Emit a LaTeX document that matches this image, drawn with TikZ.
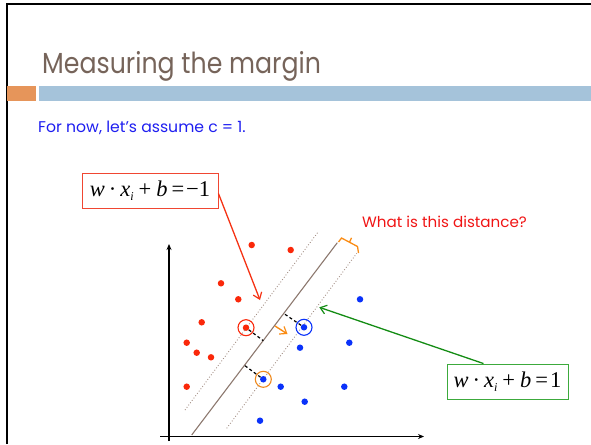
\documentclass[tikz,border=0pt]{standalone}
\usepackage{fontspec}
\setmainfont{Liberation Serif}
\newfontfamily\gfont{Poppins}
\usetikzlibrary{arrows.meta}
\definecolor{titlec}{RGB}{118,100,90}
\definecolor{orbar}{RGB}{230,149,90}
\definecolor{blbar}{RGB}{165,195,218}
\definecolor{txtblue}{RGB}{30,30,240}
\definecolor{txtred}{RGB}{240,20,20}
\definecolor{rdotc}{RGB}{250,40,10}
\definecolor{bdotc}{RGB}{10,50,250}
\definecolor{boxred}{RGB}{240,70,50}
\definecolor{boxgreen}{RGB}{60,170,60}
\definecolor{arrred}{RGB}{245,50,20}
\definecolor{arrgreen}{RGB}{20,140,20}
\definecolor{orangec}{RGB}{250,140,20}
\definecolor{linebrown}{RGB}{140,120,110}
\definecolor{dotgray}{RGB}{165,145,135}
\newcommand{\sub}[1]{\raisebox{-4pt}{\fontsize{12}{12}\selectfont\itshape #1}}
\newcommand{\eqn}[1]{\textit{w}\kern4pt·\kern4pt\textit{x}\sub{i}\kern5pt+\kern5pt\textit{b}\kern4pt=\kern2pt#1}
\begin{document}
\begin{tikzpicture}[x=1pt,y=-1pt,
  rdot/.style={circle,fill=rdotc,inner sep=0pt,minimum size=6.5pt},
  bdot/.style={circle,fill=bdotc,inner sep=0pt,minimum size=6.5pt},
  ring/.style={circle,draw=#1,line width=1.1pt,inner sep=0pt,minimum size=16pt},
  eqbox/.style={draw=#1,line width=0.9pt,inner sep=0pt,minimum height=35pt,font=\fontsize{22.5}{22.5}\selectfont},
  tipb/.style={-{Straight Barb[length=6pt,width=9pt,line width=1.2pt]}},
  margline/.style={dotgray,line width=0.9pt,dotted},
  dashl/.style={black,line width=1.2pt,dash pattern=on 3pt off 2.5pt}]
\useasboundingbox (0,0) rectangle (591,444);
% frame
\draw[line width=2.5pt] (7,444) -- (7,4) -- (591,4);
% bars
\fill[orbar] (7,86) rectangle (36,100.5);
\fill[blbar] (39,86) rectangle (591,100.5);
% title
\node[anchor=base west,inner sep=0pt,text=titlec,font=\gfont\fontsize{29}{29}\selectfont] (title) at (42,74) {\scalebox{0.87}[1]{Measuring the margin}};
\node[anchor=base west,inner sep=0pt,text=txtblue,font=\gfont\fontsize{15.5}{15.5}\selectfont] (sub) at (38,132) {\scalebox{1.01}[1]{For now, let’s assume c = 1.}};
\node[anchor=base west,inner sep=0pt,text=txtred,font=\gfont\fontsize{15}{15}\selectfont] (q) at (362,227) {\scalebox{1.01}[1]{What is this distance?}};
% boxes
\node[eqbox=boxred,minimum width=136pt] (rbox) at (150,190.5) {\eqn{−1}};
\node[eqbox=boxgreen,minimum width=121pt] (gbox) at (507.5,381.5) {\eqn{1}};
% axes
\coordinate (O) at (169,436.5);
\coordinate (ytop) at (169,244);
\coordinate (xend) at (424,436.5);
\draw[line width=1.6pt,-{Stealth[length=6pt,width=5pt]}] (169,441) -- (ytop);
\draw[line width=1.6pt,-{Stealth[length=6pt,width=5pt]}] (160,436.5) -- (xend);
% lines
\coordinate (mA) at (191.7,435);
\coordinate (mB) at (337.3,242.7);
\coordinate (uA) at (185,410);
\coordinate (uB) at (318.3,231.7);
\coordinate (lA) at (226.7,428.3);
\coordinate (lB) at (356.7,253.3);
\draw[linebrown,line width=1.1pt] (mA) -- (mB);
\draw[margline] (uA) -- (uB);
\draw[margline] (lA) -- (lB);
% bracket
\draw[orangec,line width=1.3pt] (338.5,242) -- (341.5,238) -- (357.5,246.5) -- (358.5,253);
\draw[orangec,line width=1.3pt] (349.5,242.3) -- (351.5,237.8);
% red points
\node[rdot] (r1) at (251.7,245) {};
\node[rdot] (r2) at (290.7,250) {};
\node[rdot] (r3) at (221,283.3) {};
\node[rdot] (r4) at (238.3,299.3) {};
\node[rdot] (r5) at (201.7,322.3) {};
\node[rdot] (r6) at (186.7,342.7) {};
\node[rdot] (r7) at (196.7,352.7) {};
\node[rdot] (r8) at (211,357.3) {};
\node[rdot] (r9) at (186.7,386.7) {};
\node[rdot] (rs) at (246,327.7) {};
% blue points
\node[bdot] (b1) at (360,299.3) {};
\node[bdot] (bs) at (304,327.3) {};
\node[bdot] (b2) at (300,347.7) {};
\node[bdot] (b3) at (349.3,342.7) {};
\node[bdot] (bo) at (263.3,379.3) {};
\node[bdot] (b4) at (280.7,386.7) {};
\node[bdot] (b5) at (344.3,386.7) {};
\node[bdot] (b6) at (304.7,401.7) {};
\node[bdot] (b7) at (260,420.7) {};
% rings
\node[ring=rdotc] (rr) at (rs) {};
\node[ring=bdotc] (br) at (bs) {};
\node[ring=orangec!80!brown] (or) at (bo) {};
% dashed perpendiculars
\coordinate (f1) at (263.3,340.7);
\coordinate (f2) at (285,314.3);
\coordinate (f3) at (245,365.7);
\draw[dashl] (rs) -- (f1);
\draw[dashl] (f2) -- (bs);
\draw[dashl] (f3) -- (bo);
% orange arrow
\coordinate (oa) at (275,326);
\coordinate (ob) at (287.5,334);
\draw[orangec,line width=1.4pt,tipb] (oa) -- (ob);
% red and green arrows
\coordinate (rt) at (260,300);
\coordinate (gt) at (319.3,307.3);
\draw[arrred,line width=1.3pt,tipb] ([yshift=-3pt]rbox.east) -- (rt);
\draw[arrgreen,line width=1.3pt,tipb] ([xshift=-24pt]gbox.north) -- (gt);
\end{tikzpicture}
\end{document}
